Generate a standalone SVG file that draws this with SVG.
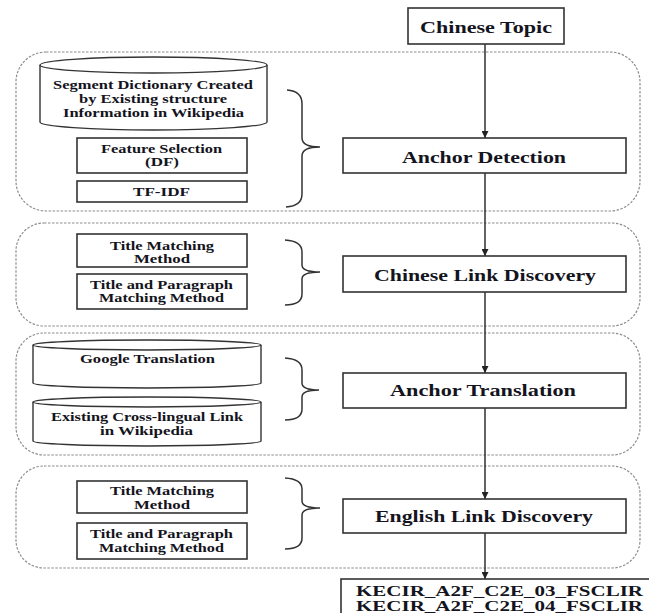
<svg xmlns="http://www.w3.org/2000/svg" width="649" height="613" viewBox="0 0 649 613">
<defs>
<style>
.stage{fill:none;stroke:#8c8c8c;stroke-width:1.2;stroke-dasharray:2.5 1.5}
.box{fill:#fff;stroke:#333;stroke-width:1.6}
.db{fill:#fff;stroke:#333;stroke-width:1.4}
.brace{fill:none;stroke:#333;stroke-width:1.5}
.edge{fill:none;stroke:#222;stroke-width:1.4}
.big{font-family:"Liberation Serif","Times New Roman",serif;font-weight:bold;font-size:16px;fill:#141420}
.run{font-family:"Liberation Serif","Times New Roman",serif;font-weight:bold;font-size:14px;fill:#141420}
.sm{font-family:"Liberation Serif","Times New Roman",serif;font-weight:bold;font-size:12px;fill:#141420}
</style>
<marker id="ah" viewBox="0 0 10 10" refX="10" refY="5" markerWidth="7" markerHeight="7" markerUnits="userSpaceOnUse" orient="auto">
<path d="M0,0 L10,5 L0,10 z" fill="#222"/>
</marker>
</defs>
<rect width="649" height="613" fill="#fff"/>

<g id="stages">
<rect id="stage1" class="stage" x="16" y="52" width="624" height="159" rx="30" ry="30"/>
<rect id="stage2" class="stage" x="16" y="223" width="624" height="103" rx="28" ry="28"/>
<rect id="stage3" class="stage" x="16" y="333" width="624" height="122" rx="28" ry="28"/>
<rect id="stage4" class="stage" x="16" y="466" width="624" height="102" rx="28" ry="28"/>
</g>

<g id="connectors">
<line class="edge" x1="485" y1="44" x2="485" y2="138" marker-end="url(#ah)"/>
<line class="edge" x1="485" y1="173" x2="485" y2="256" marker-end="url(#ah)"/>
<line class="edge" x1="485" y1="292" x2="485" y2="373" marker-end="url(#ah)"/>
<line class="edge" x1="485" y1="408" x2="485" y2="499" marker-end="url(#ah)"/>
<line class="edge" x1="485" y1="533" x2="485" y2="579" marker-end="url(#ah)"/>
<path class="brace" d="M287,90 Q302,91 302,104 L302,138 Q302,147 320,147 Q302,147 302,156 L302,194 Q302,206 286,207"/>
<path class="brace" d="M285,240 Q302,241 302,252 L302,265 Q302,272 320,272 Q302,272 302,279 L302,294 Q302,305 285,305"/>
<path class="brace" d="M285,358 Q302,359 302,370 L302,383 Q302,390 319,390 Q302,390 302,397 L302,409 Q302,420 285,420"/>
<path class="brace" d="M285,478 Q302,479 302,489 L302,501 Q302,508 320,508 Q302,508 302,515 L302,538 Q302,549 285,549"/>
</g>

<g id="chinese-topic">
<rect class="box" x="408" y="8" width="156" height="36"/>
<text class="big" x="420" y="33" textLength="132" lengthAdjust="spacingAndGlyphs">Chinese Topic</text>
</g>

<g id="segment-dictionary">
<path class="db" d="M40,65 L40,122 A113.5,8 0 0 0 267,122 L267,65"/>
<ellipse class="db" cx="153.5" cy="65" rx="113.5" ry="8"/>
<text class="sm" x="53" y="89" textLength="200" lengthAdjust="spacingAndGlyphs">Segment Dictionary Created</text>
<text class="sm" x="79" y="103" textLength="148" lengthAdjust="spacingAndGlyphs">by Existing structure</text>
<text class="sm" x="63" y="117" textLength="181" lengthAdjust="spacingAndGlyphs">Information in Wikipedia</text>
</g>

<g id="feature-selection">
<rect class="box" x="77" y="138" width="170" height="35"/>
<text class="sm" x="101" y="153" textLength="121" lengthAdjust="spacingAndGlyphs">Feature Selection</text>
<text class="sm" x="145" y="166" textLength="34" lengthAdjust="spacingAndGlyphs">(DF)</text>
</g>

<g id="tf-idf">
<rect class="box" x="77" y="181" width="170" height="21"/>
<text class="sm" x="133" y="196" textLength="57" lengthAdjust="spacingAndGlyphs">TF-IDF</text>
</g>

<g id="anchor-detection">
<rect class="box" x="343" y="138" width="283" height="35"/>
<text class="big" x="402" y="163" textLength="164" lengthAdjust="spacingAndGlyphs">Anchor Detection</text>
</g>

<g id="title-matching-1">
<rect class="box" x="77" y="234" width="170" height="33"/>
<text class="sm" x="110" y="250" textLength="104" lengthAdjust="spacingAndGlyphs">Title Matching</text>
<text class="sm" x="134" y="263" textLength="56" lengthAdjust="spacingAndGlyphs">Method</text>
</g>

<g id="title-paragraph-1">
<rect class="box" x="77" y="274" width="170" height="35"/>
<text class="sm" x="90" y="289" textLength="143" lengthAdjust="spacingAndGlyphs">Title and Paragraph</text>
<text class="sm" x="99" y="302" textLength="125" lengthAdjust="spacingAndGlyphs">Matching Method</text>
</g>

<g id="chinese-link-discovery">
<rect class="box" x="343" y="256" width="283" height="36"/>
<text class="big" x="374" y="281" textLength="222" lengthAdjust="spacingAndGlyphs">Chinese Link Discovery</text>
</g>

<g id="google-translation">
<path class="db" d="M33,345 L33,383 A114,5 0 0 0 261,383 L261,345"/>
<ellipse class="db" cx="147" cy="345" rx="114" ry="5"/>
<text class="sm" x="80" y="363" textLength="135" lengthAdjust="spacingAndGlyphs">Google Translation</text>
</g>

<g id="cross-lingual-link">
<path class="db" d="M33,402 L33,441 A114,5 0 0 0 261,441 L261,402"/>
<ellipse class="db" cx="147" cy="402" rx="114" ry="5"/>
<text class="sm" x="51" y="421" textLength="192" lengthAdjust="spacingAndGlyphs">Existing Cross-lingual Link</text>
<text class="sm" x="100" y="435" textLength="93" lengthAdjust="spacingAndGlyphs">in Wikipedia</text>
</g>

<g id="anchor-translation">
<rect class="box" x="343" y="373" width="283" height="35"/>
<text class="big" x="390" y="396" textLength="186" lengthAdjust="spacingAndGlyphs">Anchor Translation</text>
</g>

<g id="title-matching-2">
<rect class="box" x="77" y="481" width="170" height="32"/>
<text class="sm" x="110" y="495" textLength="104" lengthAdjust="spacingAndGlyphs">Title Matching</text>
<text class="sm" x="134" y="509" textLength="56" lengthAdjust="spacingAndGlyphs">Method</text>
</g>

<g id="title-paragraph-2">
<rect class="box" x="77" y="523" width="170" height="36"/>
<text class="sm" x="90" y="538" textLength="143" lengthAdjust="spacingAndGlyphs">Title and Paragraph</text>
<text class="sm" x="99" y="552" textLength="125" lengthAdjust="spacingAndGlyphs">Matching Method</text>
</g>

<g id="english-link-discovery">
<rect class="box" x="343" y="499" width="283" height="34"/>
<text class="big" x="375" y="522" textLength="218" lengthAdjust="spacingAndGlyphs">English Link Discovery</text>
</g>

<g id="runs">
<rect class="box" x="341" y="579" width="330" height="60"/>
<text class="run" x="356" y="596" textLength="287" lengthAdjust="spacingAndGlyphs">KECIR_A2F_C2E_03_FSCLIR</text>
<text class="run" x="356" y="611" textLength="287" lengthAdjust="spacingAndGlyphs">KECIR_A2F_C2E_04_FSCLIR</text>
</g>
</svg>
